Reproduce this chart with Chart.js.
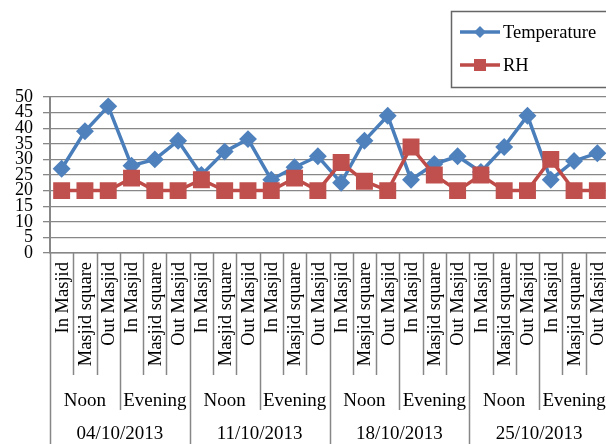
<!DOCTYPE html>
<html>
<head>
<meta charset="utf-8">
<script src="https://cdn.jsdelivr.net/npm/chart.js@4/dist/chart.umd.min.js"></script>
<style>
  html,body{margin:0;padding:0;background:#fff;overflow:hidden;width:606px;height:444px;}
  #wrap{position:absolute;left:0;top:0;width:622px;height:444px;}
</style>
</head>
<body>
<div id="wrap"><canvas id="chart" width="622" height="444"></canvas></div>
<script>
// category levels
const locations=["In Masjid","Masjid square","Out Masjid"];
const periods=["Noon","Evening"];
const dates=["04/10/2013","11/10/2013","18/10/2013","25/10/2013"];
// y axis 0..50
const yTicks=[0,5,10,15,20,25,30,35,40,45,50];

// values, one per category (date > period > location)
const temperature=[27,39,47,28,30,36, 25,32.5,36.5,23.5,27.5,31, 22.5,36,44,23.5,28.5,31, 26,34,44,23.5,29.5,32];
const rh=[20,20,20,24,20,20, 23.5,20,20,20,24,20, 29,23,20,34,25,20, 25,20,20,30,20,20];

const labels=[];
dates.forEach(d=>periods.forEach(p=>locations.forEach(l=>labels.push(l))));

const FONT="Liberation Serif, Times New Roman, serif";
const GRID="#878787";

// draws the 3-level category axis and the legend
const extras={
  id:"extras",
  afterDraw(chart){
    const ctx=chart.ctx;
    const xs=chart.scales.x;
    const area=chart.chartArea;
    const w=xs.getPixelForValue(1)-xs.getPixelForValue(0);
    const left0=xs.getPixelForValue(0)-w/2;
    const n=labels.length;
    ctx.save();
    // separators
    ctx.strokeStyle=GRID;
    ctx.lineWidth=1.5;
    for(let b=0;b<=n;b++){
      let x=Math.round(left0+b*w)+0.5;
      let bottom=375;
      if(b%6==0) bottom=444;
      else if(b%3==0) bottom=410;
      ctx.beginPath();
      ctx.moveTo(x,area.bottom);
      ctx.lineTo(x,bottom);
      ctx.stroke();
    }
    ctx.fillStyle="#000";
    // location labels, rotated
    ctx.font="18.5px "+FONT;
    ctx.textAlign="right";
    ctx.textBaseline="middle";
    labels.forEach((lab,i)=>{
      ctx.save();
      ctx.translate(xs.getPixelForValue(i)+1,262);
      ctx.rotate(-Math.PI/2);
      ctx.fillText(lab,0,0);
      ctx.restore();
    });
    // period labels
    ctx.font="19px "+FONT;
    ctx.textAlign="center";
    const per=locations.length;
    for(let g=0;g<n/per;g++){
      let cx=left0+(g*per+per/2)*w;
      ctx.fillText(periods[g%periods.length],cx,401);
    }
    // date labels
    const dsz=per*periods.length;
    for(let g=0;g<dates.length;g++){
      let cx=left0+(g*dsz+dsz/2)*w;
      ctx.fillText(dates[g],cx,434);
    }
    // legend
    ctx.strokeStyle="#666";
    ctx.lineWidth=1.5;
    ctx.strokeRect(451.5,11.5,166,76);
    const rows=[32,65];
    chart.data.datasets.forEach((ds,k)=>{
      const y=rows[k];
      ctx.strokeStyle=ds.borderColor;
      ctx.lineWidth=3.5;
      ctx.beginPath();
      ctx.moveTo(460,y);ctx.lineTo(500,y);ctx.stroke();
      ctx.fillStyle=ds.pointBackgroundColor;
      ctx.beginPath();
      if(ds.pointStyle=="rectRot"){
        ctx.moveTo(480,y-6);ctx.lineTo(486,y);ctx.lineTo(480,y+6);ctx.lineTo(474,y);
      }else{
        ctx.rect(474,y-6,12,12);
      }
      ctx.fill();
      ctx.fillStyle="#000";
      ctx.textAlign="left";
      ctx.font="18.5px "+FONT;
      ctx.fillText(ds.label,503,y+1);
    });
    ctx.restore();
  }
};

new Chart(document.getElementById("chart"),{
  type:"line",
  data:{
    labels:labels,
    datasets:[
      {
        label:"Temperature",
        data:temperature,
        borderColor:"#4A7EBB",
        backgroundColor:"#4F81BD",
        pointBackgroundColor:"#4F81BD",
        pointBorderColor:"#4F81BD",
        pointStyle:"rectRot",
        pointRadius:6.5,
        borderWidth:3.5,
        tension:0,
        order:2
      },
      {
        label:"RH",
        data:rh,
        borderColor:"#BE4B48",
        backgroundColor:"#C0504D",
        pointBackgroundColor:"#C0504D",
        pointBorderColor:"#C0504D",
        pointStyle:"rect",
        pointRadius:9.5,
        borderWidth:3.5,
        tension:0,
        order:1
      }
    ]
  },
  options:{
    responsive:false,
    animation:false,
    layout:{padding:{top:97,right:6,left:0,bottom:0}},
    plugins:{legend:{display:false},tooltip:{enabled:false}},
    scales:{
      x:{
        offset:true,
        grid:{display:false},
        border:{display:true,color:GRID,width:1.5},
        ticks:{display:false},
        afterFit(s){s.height=191;}
      },
      y:{
        min:0,max:50,
        afterBuildTicks(s){s.ticks=yTicks.map(v=>({value:v}));},
        grid:{color:GRID,lineWidth:1.3,tickLength:7},
        border:{display:true,color:GRID,width:2},
        ticks:{color:"#000",padding:10,autoSkip:false,font:{family:FONT,size:18}},
        afterFit(s){s.width=50;}
      }
    }
  },
  plugins:[extras]
});
</script>
</body>
</html>
